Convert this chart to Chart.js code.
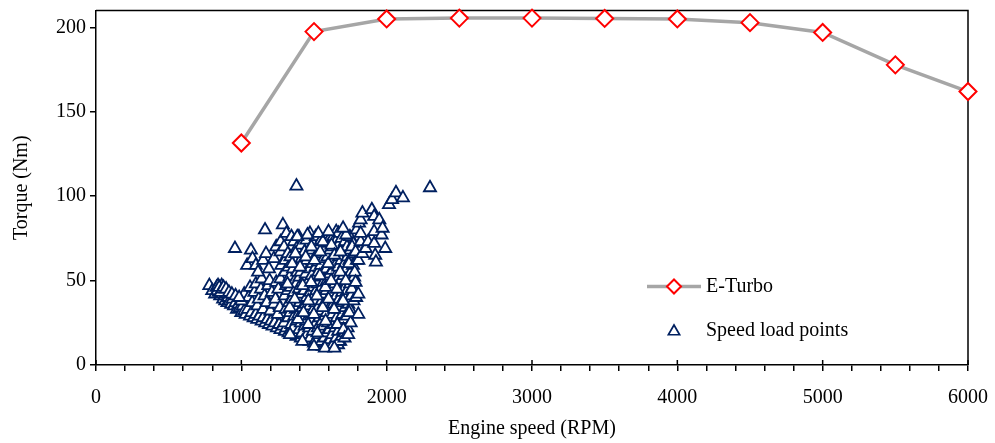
<!DOCTYPE html>
<html><head><meta charset="utf-8">
<script src="https://cdn.jsdelivr.net/npm/chart.js@4/dist/chart.umd.min.js"></script>
<style>html,body{margin:0;padding:0;background:#fff;}#wrap{width:995px;height:443px;}</style>
</head><body><div id="wrap"><canvas id="c" width="995" height="443"></canvas></div>
<script>
// ---- data ----
const turboRpm    = [1000, 1500, 2000, 2500, 3000, 3500, 4000, 4500, 5000, 5500, 6000];
const turboTorque = [131.5, 197.5, 205, 205.5, 205.5, 205.3, 205, 202.8, 197, 177.8, 162];

const loadRpm = [
  // tail lower band
  780,800,820,830,840, 845,850,855,860,865, 870,875,880,885,890, 900,905,910,920,930,
  940,950,960,970,980, 990,1000,1010,1020,1030, 1045,1060,1070,1085,1100, 1110,1125,1140,1150,1165,
  1180,1190,1205,1215,1230, 1245,1260,1270,1285,1300, 1310,1325,1340,1350,1365, 1380,1395,1410,1425,1440,
  1455,1470,1485,1500,1515, 1530,1545,1560,1575,1590, 1605,1620,1635,1650,1665, 1680,
  // tail upper
  1000,1020,1050,1060,1075, 1090,1100,1110,1120,1135, 1140,1150,1160,1175,1185, 1195,1200,1210,1225,1235,
  1240,1250,1255,1265,1270,
  835,848,858,868,878, 895,915,935,960,985,
  // upper-left scattered
  956,1040,1066,1077,1100, 1115,1150,1163,1170,1190, 1224,1240,1270,1270,1275, 1286,1300,1310,
  // core
  1296,1305,1299,1308,1302,1294,
  1322,1328,1318,1331,1325,1320,
  1343,1336,1347,1340,1338,1345,
  1358,1365,1352,1362,1368,1356,1361,
  1381,1375,1386,1378,1384,1373,1380,
  1398,1392,1403,1395,1400,1396,
  1417,1410,1421,1413,1419,1408,1415,1412,
  1436,1430,1441,1433,1438,1428,1435,
  1452,1446,1457,1449,1455,1444,1451,1448,
  1474,1467,1479,1470,1476,1465,1472,1469,1472,
  1492,1486,1497,1488,1494,1484,1490,1487,1493,
  1513,1508,1517,1510,1515,1506,1512,1509,1512,
  1532,1526,1537,1528,1534,1524,1530,1527,1533,
  1552,1546,1556,1548,1554,1545,1551,1547,1553,1549,
  1572,1566,1576,1568,1574,1565,1570,1567,1571,
  1591,1586,1596,1588,1594,1584,1590,1587,1592,1589,
  1612,1606,1616,1608,1614,1604,1610,1607,1611,1609,
  1631,1626,1636,1628,1634,1624,1630,1627,1632,1629,1633,
  1652,1646,1656,1648,1654,1644,1650,1647,1651,1649,1653,
  1671,1666,1676,1668,1674,1664,1670,1667,1672,1669,1668,
  1692,1686,1696,1688,1694,1684,1690,1687,1691,1689,
  1711,1706,1716,1708,1714,1704,1710,1707,1712,
  1731,1726,1736,1728,1734,1724,1730,1727,
  1752,1746,1756,1748,1754,1744,1750,1747,
  1772,1766,1776,1768,1774,1770,
  // core, second layer
  1318,1333,1350,1367,1372, 1390,1404,1422,1428,1443, 1460,1461,1480,1482,1499, 1503,1520,1523,1540,1542,
  1560,1561,1578,1580,1598, 1600,1618,1620,1638,1640, 1658,1660,1680,1682,1700, 1702,1718,1721,1740,1742,
  1760,1762,1780,1790,1795, 1385,1455,1530,1600,1700, 1335,1420,1500,1575,1640, 1710,1735,
  // right arm and isolated points
  1786,1786,1793,1805,1805, 1805,1810,1821,1821,1821, 1833,1833,1856,1872,1898,
  1914,1914,1914,1921,1926, 1949,1965,1972,1990,2016, 2037,2064,2112,2298,1379
];
const loadTorque = [
  // tail lower band
  47,44,42,46,47, 43,45,41,44,47, 42,39,44,41,38, 42,37,40,38,36,
  39,35,37,33,36, 34,31,35,32,30, 33,29,31,28,30, 27,29,26,28,25,
  27,24,26,23,25, 22,24,21,23,20, 22,19,21,18,20, 17,19,16,18,15,
  17,14,16,13,15, 12,14,11,13,11, 14,12,11,13,12, 14,
  // tail upper
  38,42,40,46,37, 43,48,35,39,45, 51,33,41,37,47, 50,32,43,36,39,
  49,30,45,34,51,
  44,46,43,45,46, 45,43,42,41,40,
  // upper-left scattered
  69,59,68,63,59, 55,62,80,66,57, 63,70,67,73,59, 83,55,78,
  // core
  25,33,41,47,62,70,
  28,37,44,52,58,66,
  24,31,39,46,64,76,
  22,29,35,43,50,57,73,
  26,33,40,48,55,61,69,
  21,30,37,45,52,76,
  19,25,34,42,49,55,63,71,
  23,28,36,44,51,58,67,
  18,26,32,40,47,54,62,74,
  16,22,29,35,43,50,57,65,78,
  20,27,33,39,46,53,60,68,72,
  15,24,30,37,44,51,58,64,76,
  18,22,28,34,41,48,55,61,70,
  14,20,26,32,38,45,52,59,66,74,
  16,23,29,36,42,49,56,63,69,
  13,19,25,31,37,44,50,57,64,72,
  15,21,27,34,40,47,54,60,68,75,
  12,18,24,30,36,43,49,56,62,70,76,
  16,22,28,35,41,48,53,59,66,73,79,
  14,20,26,33,39,45,52,58,64,71,78,
  17,24,30,37,43,50,56,62,69,75,
  19,27,34,40,46,53,60,67,73,
  22,29,36,44,51,57,64,70,
  25,33,41,48,55,62,68,76,
  38,46,52,59,66,72,
  // core, second layer
  48,34,60,39,66, 27,58,47,31,64, 24,38,49,70,30, 62,41,19,53,67,
  34,73,46,26,60, 39,50,71,33,65, 45,24,55,67,38, 21,50,77,60,31,
  45,70,55,40,62, 76,77,78,79,81, 18,14,11,10,10, 16,18,
  // right arm and isolated points
  49,67,80,30,42, 62,84,73,78,86, 66,90,69,73,92,
  72,79,88,65,61, 86,77,81,69,95, 98,102,99,105,106
];

const xTickLabels = [0, 1000, 2000, 3000, 4000, 5000, 6000];
const yTickLabels = [0, 50, 100, 150, 200];
const seriesNames = ['E-Turbo', 'Speed load points'];

// ---- styles ----
const FONT = '"Liberation Serif", "Times New Roman", serif';
const GREY = '#a6a6a6', RED = '#ff0000', NAVY = '#002060';

const turboData = turboRpm.map((x, i) => ({x, y: turboTorque[i]}));
const loadData = loadRpm.map((x, i) => ({x, y: loadTorque[i]}));

const framePlugin = {
  id: 'frameAndLegend',
  beforeDatasetsDraw(chart) {
    const {ctx, chartArea: a} = chart;
    const xs = chart.scales.x;
    ctx.save();
    ctx.strokeStyle = '#000';
    ctx.lineWidth = 1.5;
    ctx.beginPath();
    ctx.moveTo(a.left, a.top); ctx.lineTo(a.right, a.top); ctx.lineTo(a.right, a.bottom);
    ctx.stroke();
    ctx.beginPath();
    for (const v of xTickLabels) {
      const px = xs.getPixelForValue(v);
      ctx.moveTo(px, a.bottom); ctx.lineTo(px, a.bottom - 5);
    }
    ctx.stroke();
    ctx.restore();
  },
  afterDraw(chart) {
    const {ctx, chartArea: a} = chart;
    const lx = a.left + 551, ly1 = a.top + 276, ly2 = a.top + 320;
    ctx.save();
    ctx.strokeStyle = GREY; ctx.lineWidth = 3.5;
    ctx.beginPath(); ctx.moveTo(lx, ly1); ctx.lineTo(lx + 54, ly1); ctx.stroke();
    ctx.fillStyle = '#fff'; ctx.strokeStyle = RED; ctx.lineWidth = 2;
    Chart.helpers.drawPoint(ctx, {pointStyle: 'rectRot', rotation: 0, radius: 7, borderWidth: 2}, lx + 27, ly1);
    ctx.fillStyle = '#fff'; ctx.strokeStyle = NAVY; ctx.lineWidth = 1.7;
    Chart.helpers.drawPoint(ctx, {pointStyle: 'triangle', rotation: 0, radius: 6.5, borderWidth: 1.7}, lx + 27, ly2 + 1);
    ctx.fillStyle = '#000';
    ctx.font = '20px ' + FONT;
    ctx.textBaseline = 'middle';
    ctx.textAlign = 'left';
    ctx.fillText(seriesNames[0], lx + 59, ly1);
    ctx.fillText(seriesNames[1], lx + 59, ly2);
    ctx.restore();
  }
};

Chart.defaults.font.family = FONT;
Chart.defaults.font.size = 20;
Chart.defaults.color = '#000';

new Chart(document.getElementById('c'), {
  type: 'scatter',
  data: {
    datasets: [
      {
        type: 'line', label: seriesNames[0], data: turboData,
        borderColor: GREY, borderWidth: 3.5, tension: 0, fill: false,
        pointStyle: 'rectRot', pointRadius: 8.5, pointBorderWidth: 2,
        pointBorderColor: RED, pointBackgroundColor: '#fff', clip: false
      },
      {
        type: 'scatter', label: seriesNames[1], data: loadData,
        pointStyle: 'triangle', pointRadius: 7, pointBorderWidth: 1.8,
        pointBorderColor: NAVY, pointBackgroundColor: '#fff', clip: false
      }
    ]
  },
  options: {
    responsive: false, animation: false, devicePixelRatio: 1,
    layout: {padding: {top: 10, right: 27, left: 0, bottom: 0}},
    plugins: {legend: {display: false}, tooltip: {enabled: false}},
    scales: {
      x: {
        type: 'linear', min: 0, max: 6000,
        afterBuildTicks: s => { s.ticks = s.ticks.filter(t => t.value % 200 === 0); },
        afterFit: s => { s.height = 78; s.paddingLeft = 0; s.paddingRight = 0; },
        ticks: {stepSize: 200, autoSkip: false, maxRotation: 0, padding: 15,
          callback: v => xTickLabels.includes(v) ? String(v) : ''},
        grid: {drawOnChartArea: false, drawTicks: true, tickLength: 6, color: '#000', lineWidth: 1.5},
        border: {color: '#000', width: 1.5},
        title: {display: true, text: 'Engine speed (RPM)', padding: {top: 0, bottom: 2}}
      },
      y: {
        type: 'linear', min: 0, max: 210,
        afterBuildTicks: s => { s.ticks = yTickLabels.map(v => ({value: v})); },
        afterFit: s => { s.width = 96; s.paddingTop = 0; s.paddingBottom = 0; },
        ticks: {padding: 4},
        grid: {drawOnChartArea: false, drawTicks: true, tickLength: 6, color: '#000', lineWidth: 1.5},
        border: {color: '#000', width: 1.5},
        title: {display: true, text: 'Torque (Nm)', padding: {top: 10, bottom: 0}}
      }
    }
  },
  plugins: [framePlugin]
});
</script>
</body></html>
